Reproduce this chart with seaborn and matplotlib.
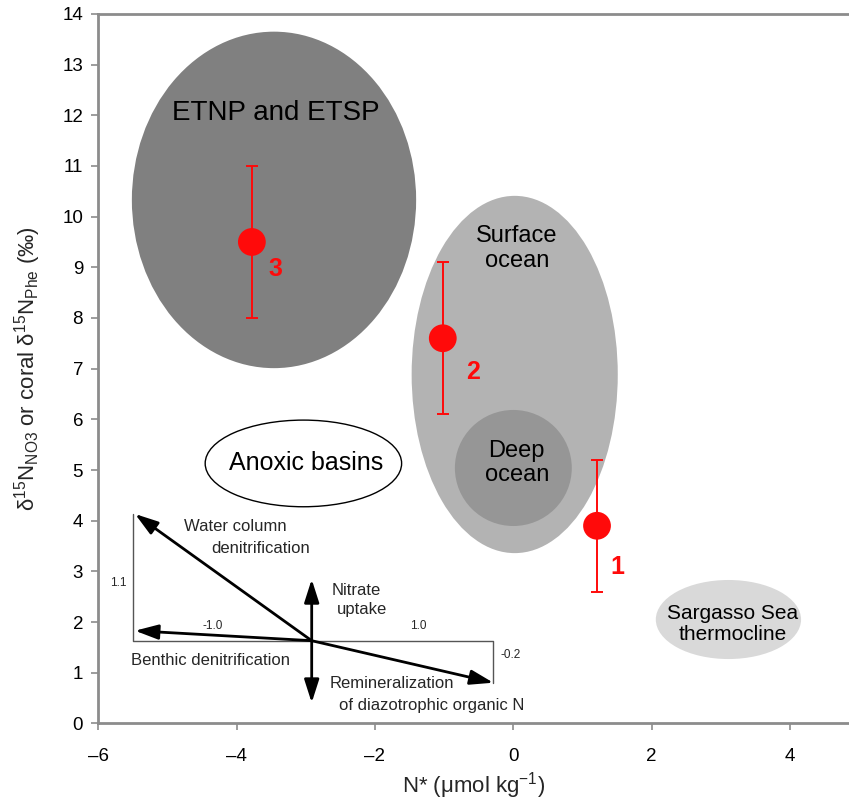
import matplotlib
matplotlib.use("Agg")
import matplotlib.pyplot as plt
from matplotlib.patches import Ellipse
import pandas as pd
import seaborn as sns

# ---------------- data ----------------
site_labels = ["1", "2", "3"]
site_nstar = [1.21, -1.02, -3.78]
site_d15n = [3.9, 7.6, 9.5]
site_err_low = [2.6, 6.1, 8.0]
site_err_high = [5.2, 9.1, 11.0]

region_names = ["ETNP and ETSP", "Surface\nocean", "Deep\nocean",
                "Anoxic basins", "Sargasso Sea\nthermocline"]
region_cx = [-3.46, 0.02, 0.0, -3.035, 3.11]
region_cy = [10.33, 6.885, 5.04, 5.13, 2.05]
region_w = [4.11, 2.98, 1.69, 2.84, 2.10]
region_h = [6.64, 7.05, 2.29, 1.71, 1.56]

vec_origin = (-2.915, 1.632)
vec_names = ["Water column denitrification", "Benthic denitrification",
             "Nitrate uptake", "Remineralization"]
vec_tip_x = [-5.469, -5.469, -2.915, -0.289]
vec_tip_y = [4.132, 1.829, 2.843, 0.803]
vec_down_y = 0.408
slope_labels = ["1.1", "-1.0", "1.0", "-0.2"]

x_ticks = [-6, -4, -2, 0, 2, 4]
x_tick_labels = ["\u20136", "\u20134", "\u20132", "0", "2", "4"]
y_ticks = list(range(0, 15))

# ---------------- styles ----------------
region_fill = ["#808080", "#b3b3b3", "#969696", "white", "#d9d9d9"]
region_edge = ["none", "none", "none", "black", "none"]
region_text_pos = [(-3.43, 12.04), (0.05, 9.37), (0.05, 5.14),
                   (-3.0, 5.13), (3.17, 1.96)]
region_fs = [20, 17, 17, 18, 15]
site_label_pos = [(1.51, 3.09), (-0.587, 6.94), (-3.435, 8.96)]

sns.set_style("ticks")
plt.rcParams["font.family"] = ["Liberation Sans", "DejaVu Sans"]
plt.rcParams["mathtext.fontset"] = "custom"
plt.rcParams["mathtext.rm"] = "Liberation Sans"
plt.rcParams["mathtext.it"] = "Liberation Sans:italic"
plt.rcParams["mathtext.bf"] = "Liberation Sans:bold"

fig = plt.figure(figsize=(8.49, 8.0), dpi=100)
ax = fig.add_axes([0.1158, 0.09575, 0.8842, 0.88685])
ax.set_xlim(-6, 4.853)
ax.set_ylim(0, 14)

# regions
for i in range(len(region_names)):
    e = Ellipse((region_cx[i], region_cy[i]), region_w[i], region_h[i],
                facecolor=region_fill[i], edgecolor=region_edge[i],
                lw=1.0, zorder=1 + i * 0.1)
    ax.add_patch(e)
    ax.text(region_text_pos[i][0], region_text_pos[i][1], region_names[i],
            ha="center", va="center", fontsize=region_fs[i], color="black",
            linespacing=1.15, zorder=3)

# vector diagram
box_col = "#555555"
ax.plot([vec_tip_x[0] - 0.025, vec_tip_x[0] - 0.025, vec_tip_x[3], vec_tip_x[3]],
        [vec_tip_y[0], vec_origin[1], vec_origin[1], vec_tip_y[3]],
        color=box_col, lw=1.0, zorder=4)
astyle = "-|>,head_length=1.0,head_width=0.32"
for tx, ty in zip([vec_tip_x[0], vec_tip_x[1], vec_tip_x[3]],
                  [vec_tip_y[0], vec_tip_y[1], vec_tip_y[3]]):
    ax.annotate("", xy=(tx, ty), xytext=vec_origin,
                arrowprops=dict(arrowstyle=astyle, color="black", lw=2.0,
                                mutation_scale=14, shrinkA=0, shrinkB=0),
                zorder=5)
ax.annotate("", xy=(vec_tip_x[2], vec_tip_y[2]), xytext=(vec_origin[0], vec_down_y),
            arrowprops=dict(arrowstyle="<|-|>,head_length=1.0,head_width=0.32",
                            color="black", lw=2.0, mutation_scale=14,
                            shrinkA=0, shrinkB=0), zorder=5)
sfs = 8.5
ax.text(-5.71, 2.776, slope_labels[0], ha="center", va="center", fontsize=sfs)
ax.text(-4.352, 1.922, slope_labels[1], ha="center", va="center", fontsize=sfs)
ax.text(-1.373, 1.922, slope_labels[2], ha="center", va="center", fontsize=sfs)
ax.text(-0.033, 1.35, slope_labels[3], ha="center", va="center", fontsize=sfs)
lfs = 12
ax.text(-4.023, 3.881, "Water column", ha="center", va="center", fontsize=lfs)
ax.text(-3.652, 3.455, "denitrification", ha="center", va="center", fontsize=lfs)
ax.text(-2.264, 2.632, "Nitrate", ha="center", va="center", fontsize=lfs)
ax.text(-2.192, 2.238, "uptake", ha="center", va="center", fontsize=lfs)
ax.text(-4.385, 1.237, "Benthic denitrification", ha="center", va="center", fontsize=lfs)
ax.text(-1.758, 0.791, "Remineralization", ha="center", va="center", fontsize=lfs)
ax.text(-1.175, 0.363, "of diazotrophic organic N", ha="center", va="center", fontsize=lfs)

# sites with error bars
df = pd.DataFrame({"nstar": site_nstar, "d15n": site_d15n, "site": site_labels,
                   "lo": site_err_low, "hi": site_err_high})
yerr = [df["d15n"] - df["lo"], df["hi"] - df["d15n"]]
ax.errorbar(df["nstar"], df["d15n"], yerr=yerr, fmt="none", ecolor="#ff0a0a",
            elinewidth=1.4, capsize=4.2, capthick=1.4, zorder=6)
sns.scatterplot(data=df, x="nstar", y="d15n", ax=ax, s=400, color="#ff0a0a",
                edgecolor="none", linewidth=0, zorder=7, legend=False)
for lab, (px, py) in zip(site_labels, site_label_pos):
    ax.text(px, py, lab, color="#ff0a0a", fontsize=18, fontweight="bold",
            ha="center", va="center", zorder=8)

# axes styling
spine_col = "#8c8c8c"
for side in ["left", "bottom", "top"]:
    ax.spines[side].set_color(spine_col)
    ax.spines[side].set_linewidth(2.0)
ax.spines["right"].set_visible(False)
ax.set_xticks(x_ticks)
ax.set_xticklabels(x_tick_labels)
ax.set_yticks(y_ticks)
ax.tick_params(axis="both", direction="out", length=5, width=1.2,
               color=spine_col, labelsize=13.5, labelcolor="black")
ax.tick_params(axis="x", pad=13)
ax.tick_params(axis="y", pad=6)

ax.set_xlabel("N* (\u03bcmol kg$^{\\mathregular{-1}}$)", fontsize=16)
ax.set_ylabel("\u03b4$^{\\mathregular{15}}$N$_{\\mathregular{NO3}}$ or coral "
              "\u03b4$^{\\mathregular{15}}$N$_{\\mathregular{Phe}}$ (\u2030)", fontsize=16)
ax.xaxis.set_label_coords(0.5, -0.066)
ax.yaxis.set_label_coords(-0.074, 0.5)

fig.savefig("out.png", dpi=100)
